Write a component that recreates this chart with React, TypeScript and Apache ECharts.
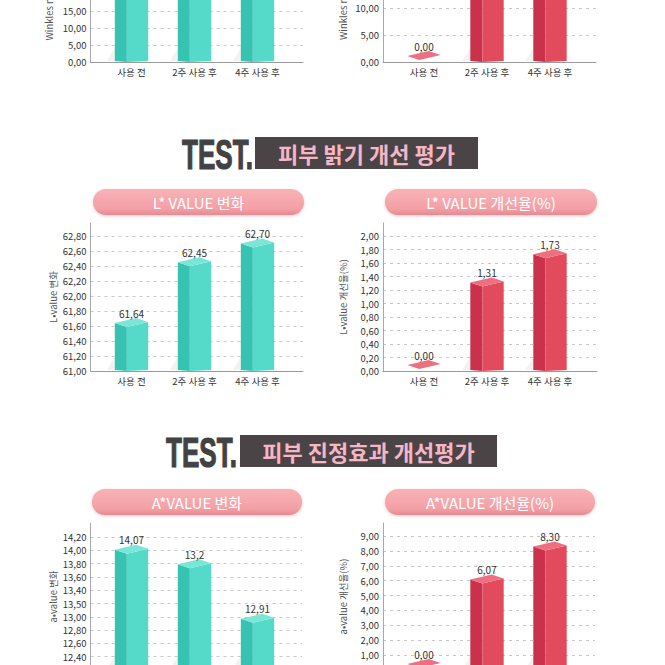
import React, { useEffect, useRef } from "react";
import * as echarts from "echarts";

const FONT = '"Noto Sans CJK KR", "Noto Sans", sans-serif';

const categories = ["사용 전", "2주 사용 후", "4주 사용 후"];

// top row (cut off at the top of the picture)
const wrinkleValues = [33.6, 30.4, 27.8];
const wrinkleLabels = ["33,60", "30,40", "27,80"];
const wrinkleTicks = ["0,00", "5,00", "10,00", "15,00", "20,00", "25,00", "30,00", "35,00", "40,00"];
const wrinkleRateValues = [0, 14.8, 19.6];
const wrinkleRateLabels = ["0,00", "14,80", "19,60"];
const wrinkleRateTicks = ["0,00", "5,00", "10,00", "15,00", "20,00", "25,00"];

// L* value
const lValues = [61.64, 62.45, 62.7];
const lLabels = ["61,64", "62,45", "62,70"];
const lTicks = ["61,00", "61,20", "61,40", "61,60", "61,80", "62,00", "62,20", "62,40", "62,60", "62,80"];
const lRateValues = [0, 1.31, 1.73];
const lRateLabels = ["0,00", "1,31", "1,73"];
const lRateTicks = ["0,00", "0,20", "0,40", "0,60", "0,80", "1,00", "1,20", "1,40", "1,60", "1,80", "2,00"];

// A* value
const aValues = [14.01, 13.79, 12.97];
const aLabels = ["14,07", "13,2", "12,91"];
const aTicks = ["12,20", "12,40", "12,60", "12,80", "13,00", "13,50", "13,40", "13,60", "13,80", "14,00", "14,20"];
const aRateValues = [0, 6.07, 8.3];
const aRateLabels = ["0,00", "6,07", "8,30"];
const aRateTicks = ["0,00", "1,00", "2,00", "3,00", "4,00", "5,00", "6,00", "7,00", "8,00", "9,00"];

type Spec = {
  frameLeft: number;
  frameRight: number;
  frameTop: number;
  axisY: number;
  tickTop: number;
  min: number;
  max: number;
  interval: number;
  ticks: string[];
  values: number[];
  labels: string[];
  palette: "teal" | "red";
  name: string;
  nameGap: number;
};

const specs: Spec[] = [
  { frameLeft: 90.5, frameRight: 303, frameTop: -88, axisY: 62, tickTop: -74, min: 0, max: 40, interval: 5, ticks: wrinkleTicks, values: wrinkleValues, labels: wrinkleLabels, palette: "teal", name: "Winkles mean value 변화", nameGap: 37 },
  { frameLeft: 383, frameRight: 596, frameTop: -87, axisY: 62, tickTop: -73, min: 0, max: 25, interval: 5, ticks: wrinkleRateTicks, values: wrinkleRateValues, labels: wrinkleRateLabels, palette: "red", name: "Winkles mean 개선율(%)", nameGap: 35 },
  { frameLeft: 90.5, frameRight: 303, frameTop: 223, axisY: 371, tickTop: 236, min: 61, max: 62.8, interval: 0.2, ticks: lTicks, values: lValues, labels: lLabels, palette: "teal", name: "L•value 변화", nameGap: 33 },
  { frameLeft: 383, frameRight: 597, frameTop: 223, axisY: 371, tickTop: 236, min: 0, max: 2, interval: 0.2, ticks: lRateTicks, values: lRateValues, labels: lRateLabels, palette: "red", name: "L•value 개선율(%)", nameGap: 35 },
  { frameLeft: 90.5, frameRight: 302, frameTop: 523, axisY: 670, tickTop: 537, min: 12.2, max: 14.2, interval: 0.2, ticks: aTicks, values: aValues, labels: aLabels, palette: "teal", name: "a•value 변화", nameGap: 33 },
  { frameLeft: 383, frameRight: 595, frameTop: 523, axisY: 670, tickTop: 536, min: 0, max: 9, interval: 1, ticks: aRateTicks, values: aRateValues, labels: aRateLabels, palette: "red", name: "a•value 개선율(%)", nameGap: 35 },
];

const palettes = {
  teal: { left: "#36c3b2", right: "#55d9c8", top: "#7ae6d8" },
  red: { left: "#c9324a", right: "#e24a5e", top: "#ee6f80" },
};

const pills = [
  { x: 93, y: 189, w: 211, text: "L* VALUE 변화" },
  { x: 385, y: 189, w: 212, text: "L* VALUE 개선율(%)" },
  { x: 92, y: 489, w: 210, text: "A*VALUE 변화" },
  { x: 385, y: 489, w: 210, text: "A*VALUE 개선율(%)" },
];

const headings = [
  { testX: 182, boxX: 255, boxW: 223, y: 137, h: 32, text: "피부 밝기 개선 평가" },
  { testX: 166, boxX: 240, boxW: 257, y: 435, h: 32, text: "피부 진정효과 개선평가" },
];

function buildOption() {
  const grid: any[] = [];
  const xAxis: any[] = [];
  const yAxis: any[] = [];
  const series: any[] = [];

  specs.forEach((s, i) => {
    const width = s.frameRight - s.frameLeft;
    // frame grid
    grid.push({ left: s.frameLeft, top: s.frameTop, width, height: s.axisY - s.frameTop, outerBoundsMode: "none", containLabel: false });
    xAxis.push({
      gridIndex: 3 * i, type: "value", min: 0, max: 1,
      axisLine: { show: true, onZero: false, lineStyle: { color: "#9a9a9a", width: 1 } },
      axisTick: { show: false }, axisLabel: { show: false }, splitLine: { show: false },
    });
    yAxis.push({
      gridIndex: 3 * i, type: "value", min: 0, max: 1,
      axisLine: { show: true, onZero: false, lineStyle: { color: "#a8a8a8", width: 1 } },
      axisTick: { show: false }, axisLabel: { show: false }, splitLine: { show: false },
      name: s.name, nameLocation: "middle", nameRotate: 90, nameGap: s.nameGap,
      nameTextStyle: { fontSize: 9.5, color: "#555", fontFamily: FONT },
    });
    // tick grid
    grid.push({ left: s.frameLeft, top: s.tickTop, width, height: s.axisY - s.tickTop, outerBoundsMode: "none", containLabel: false });
    xAxis.push({ gridIndex: 3 * i + 1, type: "value", min: 0, max: 1, show: false });
    yAxis.push({
      gridIndex: 3 * i + 1, type: "value", min: s.min, max: s.max, interval: s.interval,
      axisLine: { show: false }, axisTick: { show: false },
      axisLabel: {
        margin: 4, fontSize: 9.5, color: "#333", fontFamily: FONT,
        formatter: (_v: number, idx: number) => s.ticks[idx] ?? "",
      },
      splitLine: { show: true, lineStyle: { color: "#c8c8c8", type: [3, 4], width: 1 } },
    });
    // bar grid
    const barLeft = s.frameLeft + 9.5;
    grid.push({ left: barLeft, top: s.tickTop, width: 189, height: s.axisY - s.tickTop, outerBoundsMode: "none", containLabel: false });
    xAxis.push({
      gridIndex: 3 * i + 2, type: "category", data: categories,
      axisLine: { show: false }, axisTick: { show: false },
      axisLabel: { margin: 5, fontSize: 9.5, color: "#333", fontFamily: FONT },
    });
    yAxis.push({ gridIndex: 3 * i + 2, type: "value", min: s.min, max: s.max, show: false });

    const pal = palettes[s.palette];
    series.push({
      type: "custom",
      xAxisIndex: 3 * i + 2,
      yAxisIndex: 3 * i + 2,
      clip: false,
      data: s.values.map((v, k) => [k, v]),
      renderItem: (params: any, api: any) => {
        const idx = api.value(0);
        const val = api.value(1);
        const top = api.coord([idx, val]);
        const base = api.coord([idx, s.min]);
        const band = api.size([1, 0])[0];
        const w = band * 0.53;
        const cx = top[0];
        const x0 = cx - w / 2;
        const x1 = cx + w / 2;
        const xe = x0 + w * 0.36;
        const by = base[1];
        const ty = Math.min(top[1], by - 6);
        const children: any[] = [];
        if (by - ty > 7) {
          children.push({
            type: "polygon",
            shape: { points: [[x0 - 8, by - 1], [x0, by - 14], [x0, by - 1]] },
            style: { fill: "rgba(0,0,0,0.05)" },
          });
          children.push({
            type: "polygon",
            shape: { points: [[x0, ty], [xe, ty + 4], [xe, by], [x0, by - 1]] },
            style: { fill: pal.left },
          });
          children.push({
            type: "polygon",
            shape: { points: [[xe, ty + 4], [x1, ty - 1], [x1, by - 1], [xe, by]] },
            style: { fill: pal.right },
          });
        }
        children.push({
          type: "polygon",
          shape: { points: [[x0, ty], [xe, ty + 4], [x1, ty - 1], [x0 + x1 - xe, ty - 5]] },
          style: { fill: pal.top },
        });
        children.push({
          type: "text",
          x: cx,
          y: ty - 10,
          style: {
            text: s.labels[params.dataIndex],
            align: "center", verticalAlign: "middle",
            textAlign: "center", textVerticalAlign: "middle",
            fontSize: 10, fontFamily: FONT, fill: "#333",
          },
        });
        return { type: "group", children };
      },
    });
  });

  const graphic: any[] = [];
  pills.forEach((p) => {
    graphic.push({
      type: "rect",
      shape: { x: p.x, y: p.y, width: p.w, height: 26, r: 13 },
      style: {
        fill: new echarts.graphic.LinearGradient(0, 0, 0, 1, [
          { offset: 0, color: "#f8b3b7" },
          { offset: 0.75, color: "#f3a0a6" },
          { offset: 1, color: "#e68a92" },
        ]),
        shadowBlur: 3, shadowOffsetY: 1, shadowColor: "rgba(190,90,100,0.35)",
      },
    });
    graphic.push({
      type: "text",
      x: p.x + p.w / 2,
      y: p.y + 13,
      style: {
        text: p.text, align: "center", verticalAlign: "middle",
        textAlign: "center", textVerticalAlign: "middle",
        fontSize: 15, fontFamily: FONT, fill: "#ffffff",
      },
    });
  });
  headings.forEach((h) => {
    graphic.push({
      type: "text",
      x: h.testX,
      y: h.y + h.h / 2 + 1,
      scaleX: 0.62,
      style: {
        text: "TEST.", align: "left", verticalAlign: "middle",
        textAlign: "left", textVerticalAlign: "middle",
        fontSize: 42, fontWeight: "bold", fontFamily: '"Liberation Sans Narrow", "Liberation Sans", sans-serif',
        fill: "#424242", stroke: "#424242", lineWidth: 1.2,
      },
    });
    graphic.push({
      type: "rect",
      shape: { x: h.boxX, y: h.y, width: h.boxW, height: h.h },
      style: { fill: "#4a4446" },
    });
    graphic.push({
      type: "text",
      x: h.boxX + h.boxW / 2,
      y: h.y + h.h / 2,
      style: {
        text: h.text, align: "center", verticalAlign: "middle",
        textAlign: "center", textVerticalAlign: "middle",
        fontSize: 22, fontWeight: "bold", fontFamily: FONT, fill: "#f5b6c6",
      },
    });
  });

  return {
    animation: false,
    backgroundColor: "#ffffff",
    textStyle: { fontFamily: FONT },
    grid,
    xAxis,
    yAxis,
    series,
    graphic,
  };
}

export default function App() {
  const ref = useRef<HTMLDivElement>(null);
  useEffect(() => {
    if (!ref.current) return;
    const chart = echarts.init(ref.current, undefined, { renderer: "svg" });
    chart.setOption(buildOption() as any);
    return () => chart.dispose();
  }, []);
  return (
    <div
      ref={ref}
      style={{ position: "fixed", left: 0, top: 0, width: 665, height: 665, background: "#fff" }}
    />
  );
}
